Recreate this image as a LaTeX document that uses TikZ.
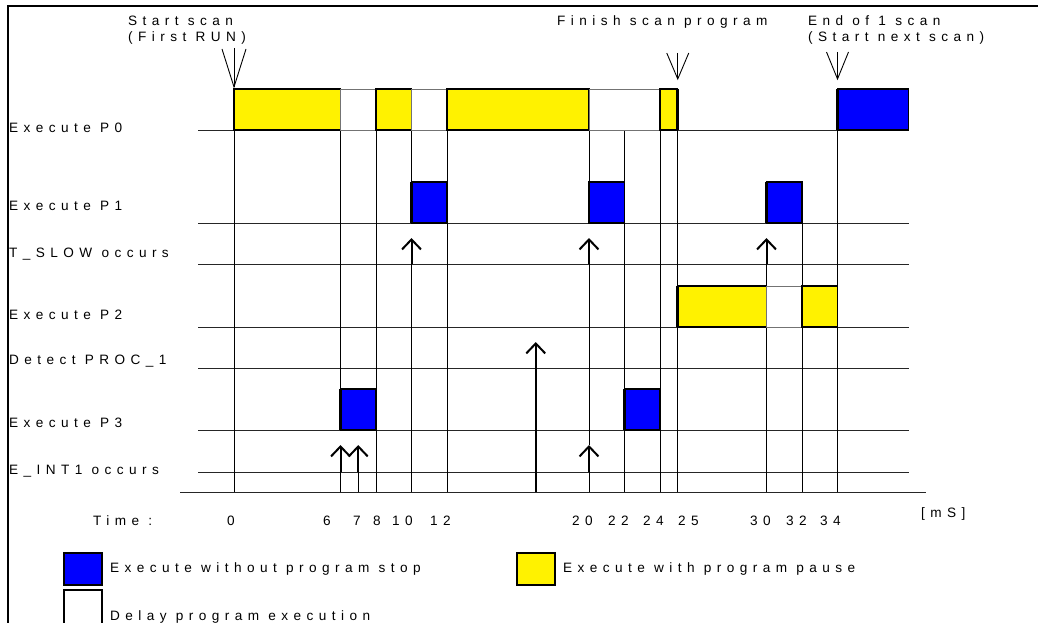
\documentclass[tikz,border=0pt]{standalone}
\usepackage{fontspec}
\setmainfont{Liberation Sans}[LetterSpace=40]
\usetikzlibrary{arrows.meta}
\newcommand\tm[1]{234+17.75*(#1)}
\begin{document}
\begin{tikzpicture}[x=1pt,y=-1pt,
  frame/.style={line width=2pt,black},
  rowline/.style={line width=0.8pt,black!85},
  vline/.style={line width=0.8pt,black},
  blk/.style={draw=black,line width=1.3pt,fill=blue},
  ylw/.style={draw=black,line width=1.3pt,fill=yellow},
  dly/.style={draw=black!55,line width=0.7pt,fill=white},
  ledge/.style={line width=2.6pt,black},
  evt/.style={line width=2pt,-{Straight Barb[length=10pt,width=19pt,line width=2pt]}},
  vmark/.style={line width=0.9pt},
  lbl/.style={font=\fontsize{13.6}{16}\selectfont,inner sep=0pt,anchor=base west},
  legbox/.style={draw=black,line width=1.6pt}]
\useasboundingbox (0,0) rectangle (1038,623);
% frame
\draw[frame] (8,623) -- (8,6) -- (1038,6);
% row lines
\foreach \y in {130,223,264,327,368,430,472}
  \draw[rowline] (198,\y) -- (909,\y);
\draw[rowline] (180,492) -- (926,492);
% vertical lines
\draw[vline] ({\tm{0}},89) -- ({\tm{0}},492);
\draw[vline] ({\tm{6}},130) -- ({\tm{6}},430);
\draw[vline] ({\tm{6}},472) -- ({\tm{6}},492);
\draw[vline] ({\tm{7}},472) -- ({\tm{7}},492);
\draw[vline] ({\tm{8}},130) -- ({\tm{8}},492);
\draw[vline] ({\tm{10}},130) -- ({\tm{10}},223);
\draw[vline] ({\tm{10}},264) -- ({\tm{10}},492);
\draw[vline] ({\tm{12}},130) -- ({\tm{12}},492);
\draw[vline] ({\tm{20}},130) -- ({\tm{20}},223);
\draw[vline] ({\tm{20}},264) -- ({\tm{20}},445);
\draw[vline] ({\tm{20}},472) -- ({\tm{20}},492);
\draw[vline] ({\tm{22}},130) -- ({\tm{22}},492);
\draw[vline] ({\tm{24}},130) -- ({\tm{24}},492);
\draw[vline] ({\tm{25}},130) -- ({\tm{25}},492);
\draw[vline] ({\tm{30}},264) -- ({\tm{30}},492);
\draw[vline] ({\tm{32}},223) -- ({\tm{32}},492);
\draw[vline] ({\tm{34}},130) -- ({\tm{34}},492);
% P0 row
\draw[ylw] ({\tm{0}},89) rectangle ({\tm{6}},130);
\draw[dly] ({\tm{6}},89) rectangle ({\tm{8}},130);
\draw[ylw] ({\tm{8}},89) rectangle ({\tm{10}},130);
\draw[dly] ({\tm{10}},89) rectangle ({\tm{12}},130);
\draw[ylw] ({\tm{12}},89) rectangle ({\tm{20}},130);
\draw[dly] ({\tm{20}},89) rectangle ({\tm{24}},130);
\draw[ylw] ({\tm{24}},89) rectangle ({\tm{25}},130);
\draw[blk] ({\tm{34}},89) rectangle ({\tm{38}},130);
% P1 row
\draw[blk] ({\tm{10}},182) rectangle ({\tm{12}},223);
\draw[blk] ({\tm{20}},182) rectangle ({\tm{22}},223);
\draw[blk] ({\tm{30}},182) rectangle ({\tm{32}},223);
% P2 row
\draw[ylw] ({\tm{25}},286) rectangle ({\tm{30}},327);
\draw[dly] ({\tm{30}},286) rectangle ({\tm{32}},327);
\draw[ylw] ({\tm{32}},286) rectangle ({\tm{34}},327);
% P3 row
\draw[blk] ({\tm{6}},389) rectangle ({\tm{8}},430);
\draw[blk] ({\tm{22}},389) rectangle ({\tm{24}},430);
% thick left edges
\foreach \t/\a/\b in {0/89/130,8/89/130,12/89/130,24/89/130,34/89/130,
   10/182/223,20/182/223,30/182/223,25/286/327,32/286/327,6/389/430,22/389/430}
  \draw[ledge] ({\tm{\t}},\a) -- ({\tm{\t}},\b);
\draw[ledge] ({\tm{25}},89) -- ({\tm{25}},130);
% event arrows
\foreach \t in {10,20,30}
  \draw[evt] ({\tm{\t}},264) -- ({\tm{\t}},238);
\foreach \t in {6,7,20}
  \draw[evt] ({\tm{\t}},472) -- ({\tm{\t}},445);
\draw[evt] ({\tm{17}},492) -- ({\tm{17}},342);
% scan markers
\coordinate (s) at ({\tm{0}},87);
\draw[vmark] ({\tm{0}},48) -- (s);
\draw[vmark] ({\tm{0}-12},49) -- (s) -- ({\tm{0}+12},49);
\coordinate (f) at ({\tm{25}},79);
\draw[vmark] ({\tm{25}},53) -- (f);
\draw[vmark] ({\tm{25}-11},53) -- (f) -- ({\tm{25}+11},53);
\coordinate (e) at ({\tm{34}},79);
\draw[vmark] ({\tm{34}},52) -- (e);
\draw[vmark] ({\tm{34}-11},52) -- (e) -- ({\tm{34}+11},52);
% top texts
\node[lbl] (t1) at (128,26) {Start scan};
\node[lbl] (t2) at (128,42) {(First RUN)};
\node[lbl] (t3) at (557,26) {Finish scan program};
\node[lbl] (t4) at (808,26) {End of 1 scan};
\node[lbl] (t5) at (808,42) {(Start next scan)};
% row labels
\node[lbl] (r0) at (9,132) {Execute P0};
\node[lbl] (r1) at (9,210) {Execute P1};
\node[lbl] (r2) at (9,257) {T\_SLOW occurs};
\node[lbl] (r3) at (9,319) {Execute P2};
\node[lbl] (r4) at (9,364) {Detect PROC\_1};
\node[lbl] (r5) at (9,427) {Execute P3};
\node[lbl] (r6) at (9,474) {E\_INT1 occurs};
% time axis
\node[lbl] (time) at (93,525) {Time :};
\foreach \t/\x in {0/227,6/323,7/353,8/373,10/392,12/430,20/572,22/608,24/643,25/678,30/750,32/786,34/820}
  \node[lbl] (n\t) at (\x,525) {\t};
\node[lbl] (ms) at (921,517) {[mS]};
% legend
\draw[legbox,fill=blue] (64,553) rectangle (102,585);
\node[lbl] (l1) at (110,572) {Execute without program stop};
\draw[legbox,fill=yellow] (517,553) rectangle (555,585);
\node[lbl] (l2) at (563,572) {Execute with program pause};
\draw[legbox,fill=white] (64,590) rectangle (102,628);
\node[lbl] (l3) at (110,620) {Delay program execution};
\end{tikzpicture}
\end{document}
